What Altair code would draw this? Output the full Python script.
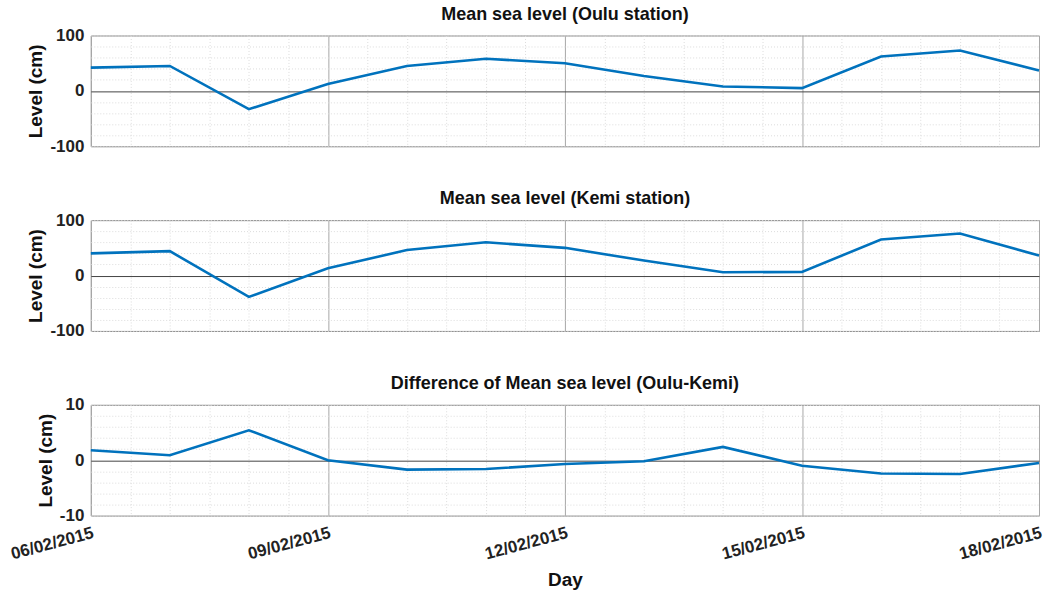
import altair as alt
import pandas as pd

# ---- data ----
days = ["2015-02-06", "2015-02-07", "2015-02-08", "2015-02-09", "2015-02-10",
        "2015-02-11", "2015-02-12", "2015-02-13", "2015-02-14", "2015-02-15",
        "2015-02-16", "2015-02-17", "2015-02-18"]
oulu = [42, 45, -33, 12.5, 45, 58, 50, 27, 8, 5, 62, 73, 37]
kemi = [40, 44, -38.5, 13, 46, 60, 50, 27, 6, 6.5, 65, 76, 36]
diff = [1.8, 0.9, 5.4, 0.0, -1.7, -1.6, -0.7, -0.2, 2.4, -1.0, -2.4, -2.5, -0.5]

titles = ["Mean sea level (Oulu station)",
          "Mean sea level (Kemi station)",
          "Difference of Mean sea level (Oulu-Kemi)"]
y_title = "Level (cm)"
x_title = "Day"

FONT = "Liberation Sans"
BLUE = "#0072BD"

start = pd.Timestamp(days[0], tz="UTC")
end = pd.Timestamp(days[-1], tz="UTC")
half_days = [int((start + pd.Timedelta(hours=12 * i)).value // 10**6)
             for i in range(int((end - start) / pd.Timedelta(hours=12)) + 1)]
x_domain = [half_days[0], half_days[-1]]

major_x = "utcdate(datum.value) % 3 == 0 && utchours(datum.value) == 0"


def panel(values, title, ymax, step, bottom):
    df = pd.DataFrame({"day": days, "level": values})
    yvals = [round(-ymax + step * i, 6) for i in range(int(2 * ymax / step) + 1)]
    x_axis_kwargs = dict(
        values=half_days,
        grid=True,
        gridColor={"condition": {"test": major_x, "value": "#a8a8a8"}, "value": "#dcdcdc"},
        gridDash={"condition": {"test": major_x, "value": []}, "value": [1, 2]},
        gridWidth=1,
        ticks=False,
        domain=False,
    )
    if bottom:
        x_axis = alt.Axis(
            labelExpr="(" + major_x + ") ? utcFormat(datum.value, '%d/%m/%Y') : ''",
            labelAngle=-15, labelAlign="right", labelBaseline="top",
            labelOverlap=False, labelFlush=False, labelPadding=9,
            labelFontSize=17, labelFontWeight="bold", labelFont=FONT, labelColor="#222",
            titleFontSize=19, titleFontWeight="bold", titleFont=FONT, titlePadding=9,
            titleColor="#111",
            **x_axis_kwargs,
        )
        x = alt.X("day:T", title=x_title, axis=x_axis,
                  scale=alt.Scale(type="utc", domain=x_domain, nice=False))
    else:
        x_axis = alt.Axis(labels=False, **x_axis_kwargs)
        x = alt.X("day:T", title=None, axis=x_axis,
                  scale=alt.Scale(type="utc", domain=x_domain, nice=False))
    y_axis = alt.Axis(
        values=yvals,
        labelExpr=f"datum.value % {ymax} == 0 ? '' + datum.value : ''",
        grid=True,
        gridColor={"condition": {"test": "datum.value == 0", "value": "#444444"}, "value": "#dcdcdc"},
        gridDash={"condition": {"test": "datum.value == 0", "value": []}, "value": [1, 2]},
        ticks=False, domain=False,
        labelFontSize=17, labelFontWeight="bold", labelFont=FONT, labelColor="#222",
        labelPadding=7, labelOverlap=False, labelFlush=False,
        titleFontSize=19, titleFontWeight="bold", titleFont=FONT, titleColor="#111",
        titlePadding=4,
    )
    y = alt.Y("level:Q", title=y_title, axis=y_axis,
              scale=alt.Scale(domain=[-ymax, ymax], nice=False, zero=False))
    return alt.Chart(df).mark_line(color=BLUE, strokeWidth=2.6).encode(x=x, y=y).properties(
        width=950, height=111,
        title=alt.TitleParams(title, fontSize=18, fontWeight="bold", font=FONT,
                              color="#111", offset=3, anchor="middle"),
    )


chart = alt.vconcat(
    panel(oulu, titles[0], 100, 20, False),
    panel(kemi, titles[1], 100, 20, False),
    panel(diff, titles[2], 10, 2, True),
    spacing=34,
).properties(
    padding={"left": 8, "right": 2, "top": 4, "bottom": 0},
    background="white",
).configure_view(stroke="#8a8a8a", strokeWidth=1)

chart.save("out.html", embed_options={"renderer": "svg", "actions": False})
